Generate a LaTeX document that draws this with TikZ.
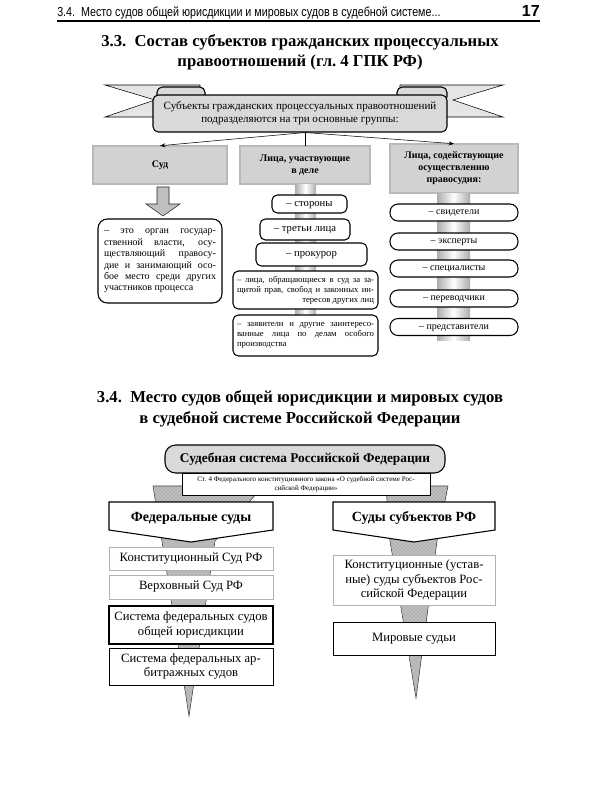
\documentclass[tikz,border=0pt]{standalone}
\usepackage{fontspec}
\setmainfont{Liberation Serif}
\newfontfamily\hdrfont[FakeStretch=0.82]{Liberation Sans}
\newfontfamily\numfont{Liberation Sans}
\usetikzlibrary{arrows.meta,patterns}
\tikzset{
  banner/.style={draw, thick, fill=gray!30, rounded corners=4pt, align=center,
    minimum width=220.5pt, minimum height=27.75pt, font=\fontsize{8.3}{10}\selectfont},
  grp/.style={draw, double=gray!55, double distance=1.2pt, fill=gray!35, align=center,
    inner sep=1pt, font=\bfseries\fontsize{7.5}{9}\selectfont},
  member/.style={draw, thick, fill=white, rounded corners=4pt, align=center,
    inner sep=1pt, inner xsep=3pt, font=\fontsize{8}{9}\selectfont},
  oneline/.style={text height=1.4ex, text depth=0.6ex},
  helper/.style={draw, thick, fill=white, rounded corners=6pt, minimum width=96pt,
    minimum height=12.75pt, inner sep=0pt, oneline, font=\fontsize{7.5}{9}\selectfont},
  court/.style={draw, fill=white, align=center, minimum width=123pt, inner sep=1pt,
    font=\fontsize{9.5}{11}\selectfont},
  spike/.style={draw=gray!40!black, fill=gray!60,
    postaction={pattern=crosshatch dots, pattern color=gray!15}},
  column/.style={left color=gray!65, right color=gray!65, middle color=white},
  arr/.style={-{Stealth[length=4pt]}},
}
\begin{document}
\begin{tikzpicture}[x=0.75pt, y=-0.75pt]
  \useasboundingbox[fill=white] (0,0) rectangle (600,800);
  \node[anchor=base west, inner sep=0pt, font=\hdrfont\fontsize{9.8}{11}\selectfont] (hdr)
    at (57,16) {3.4.\ \ Место судов общей юрисдикции и мировых судов в судебной системе...};
  \node[anchor=base east, inner sep=0pt, font=\numfont\bfseries\fontsize{12}{14}\selectfont] (pg)
    at (540,16) {17};
  \draw[line width=0.8pt] (57,21) -- (540,21);
  \node[align=center, font=\bfseries\fontsize{12.5}{15}\selectfont] (t1) at (300,52)
    {3.3.\ \ Состав субъектов гражданских процессуальных\\правоотношений (гл.~4 ГПК РФ)};

  \draw[fill=gray!20] (105,85) -- (200,85) -- (200,117) -- (105,117) -- (155,100) -- cycle;
  \draw[fill=gray!20] (503,85) -- (400,85) -- (400,117) -- (503,117) -- (453,100) -- cycle;
  \draw[thick, fill=gray!30, rounded corners=4pt] (157,87) rectangle (205,102);
  \draw[thick, fill=gray!30, rounded corners=4pt] (397,87) rectangle (447,102);
  \node[banner] (grp) at (300,113.5)
    {Субъекты гражданских процессуальных правоотношений\\подразделяются на три основные группы:};

  \node[grp, minimum width=100.5pt, minimum height=28.5pt] (sud) at (160,165) {Суд};
  \node[grp, minimum width=97.5pt, minimum height=28.5pt] (part) at (305,165)
    {Лица, участвующие\\в деле};
  \node[grp, minimum width=96pt, minimum height=36.75pt] (assist) at (454,168.5)
    {Лица, содействующие\\осуществлению\\правосудия:};
  \coordinate (hub) at (part.north |- grp.south);
  \draw[arr] (hub) -- (sud.north);
  \draw (hub) -- (part.north);
  \draw[arr] (hub) -- (assist.north);

  \draw[fill=gray!50, draw=gray!30!black] (157,187) -- (169,187) -- (169,204) -- (180,204)
    -- (163,216) -- (146,204) -- (157,204) -- cycle;
  \node[draw, thick, rounded corners=7pt, text width=84pt, inner sep=4.5pt, align=justify,
    minimum height=63pt, font=\fontsize{7.5}{8.6}\selectfont] (suddesc) at (160,261)
    {– это орган государ-\linebreak ственной власти, осу-\linebreak ществляющий правосу-\linebreak
     дие и занимающий осо-\linebreak бое место среди других\linebreak участников процесса};

  \shade[column] (295,184) rectangle (316,345);
  \node[member, oneline, minimum width=56.25pt, minimum height=13.5pt] (sides) at (309.5,204) {– стороны};
  \node[member, oneline, minimum width=67.5pt, minimum height=15.75pt] (third) at (305,229.5) {– третьи лица};
  \node[member, oneline, minimum width=83.25pt, minimum height=17.25pt] (proc) at (311.5,254.5) {– прокурор};
  \node[member, text width=102.75pt, minimum height=28.5pt, align=justify,
    font=\fontsize{6.5}{7.5}\selectfont] (others) at (305.5,290)
    {– лица, обращающиеся в суд за за-\linebreak щитой прав, свобод и законных ин-\linebreak
     \hspace*{\fill}тересов других лиц};
  \node[member, text width=102.75pt, minimum height=30.75pt, align=justify,
    font=\fontsize{6.5}{7.5}\selectfont] (special) at (305.5,335.5)
    {– заявители и другие заинтересо-\linebreak ванные лица по делам особого\linebreak производства};

  \shade[column] (437,193) rectangle (470,340);
  \node[helper] (wit) at (454,212.5) {– свидетели};
  \node[helper] (exp) at (454,241.5) {– эксперты};
  \node[helper] (spec) at (454,268.5) {– специалисты};
  \node[helper] (trans) at (454,298.5) {– переводчики};
  \node[helper] (rep) at (454,327) {– представители};

  \node[align=center, font=\bfseries\fontsize{12.5}{15.5}\selectfont] (t2) at (300,408.5)
    {3.4.\ \ Место судов общей юрисдикции и мировых судов\\в судебной системе Российской Федерации};

  \draw[spike] (153,486) -- (263,486) -- (215,541) -- (189,716) -- (162,541) -- cycle;
  \draw[spike] (386,486) -- (448,486) -- (437,541) -- (416,698) -- (390,541) -- cycle;

  \node[draw, thick, fill=gray!30, rounded corners=8pt, minimum width=210pt, minimum height=21pt,
    font=\bfseries\fontsize{10}{12}\selectfont] (sys) at (305,459) {Судебная система Российской Федерации};
  \node[draw, fill=white, minimum width=186pt, minimum height=16.5pt, inner sep=1pt, align=center,
    font=\fontsize{5.3}{6.5}\selectfont] (law) at (306,484)
    {Ст. 4 Федерального конституционного закона «О судебной системе Рос-\\сийской Федерации»};

  \draw[thick, fill=white] (109,502) -- (273,502) -- (273,530) -- (191,542) -- (109,530) -- cycle;
  \node[font=\bfseries\fontsize{10.5}{12}\selectfont] (fed) at (191,518) {Федеральные суды};
  \draw[thick, fill=white] (333,502) -- (495,502) -- (495,530) -- (414,542) -- (333,530) -- cycle;
  \node[font=\bfseries\fontsize{10.5}{12}\selectfont] (reg) at (414,518) {Суды субъектов РФ};

  \node[court, draw=gray!60, minimum height=17.25pt] (const) at (191,558.5) {Конституционный Суд РФ};
  \node[court, draw=gray!60, minimum height=18pt] (supreme) at (191,587) {Верховный Суд РФ};
  \node[court, line width=1.4pt, minimum height=28.5pt] (general) at (191,625)
    {Система федеральных судов\\общей юрисдикции};
  \node[court, semithick, minimum height=27.75pt] (arbitr) at (191,666.5)
    {Система федеральных ар-\\битражных судов};

  \node[court, draw=gray!60, minimum width=121.5pt, minimum height=37.5pt] (regconst) at (414,580)
    {Конституционные (устав-\\ные) суды субъектов Рос-\\сийской Федерации};
  \node[court, semithick, minimum width=121.5pt, minimum height=24.75pt] (peace) at (414,638.5)
    {Мировые судьи};
\end{tikzpicture}
\end{document}
